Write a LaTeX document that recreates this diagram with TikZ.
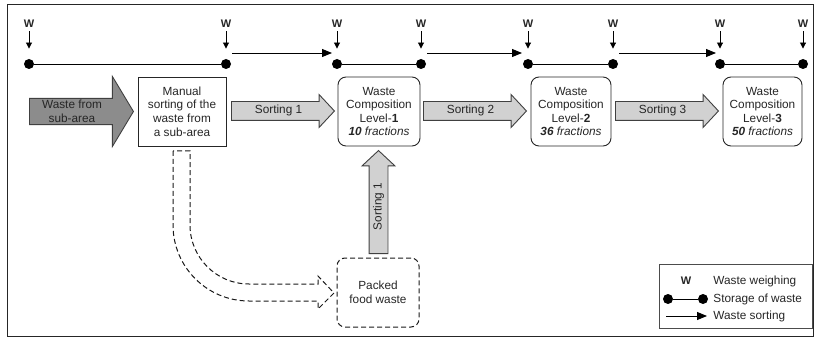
\documentclass[tikz,border=0pt]{standalone}
\usepackage{fontspec}
\setmainfont{Liberation Sans}
\usetikzlibrary{shapes.arrows, arrows.meta}

\begin{document}
\begin{tikzpicture}[x=1pt, y=1pt, line width=0.9pt,
    every node/.style={font=\fontsize{11.8}{13.6}\selectfont, text=black!85},
    box/.style={draw=black!85, minimum width=84pt, minimum height=69pt, align=center, inner sep=0pt},
    roundbox/.style={box, rounded corners=8pt},
    dot/.style={circle, fill=black, inner sep=0pt, minimum size=10pt},
    wlabel/.style={font=\fontsize{11}{12}\selectfont\bfseries, inner sep=2pt},
    warrow/.style={-{Triangle[length=6pt,width=6pt]}, shorten <=1pt, shorten >=10pt},
    sortline/.style={-{Triangle[length=10pt,width=8pt]}},
    fatarrow/.style={single arrow, draw=black!75, fill=black!18, minimum width=32pt,
        single arrow head extend=7pt, single arrow tip angle=94, minimum height=103pt,
        inner ysep=3.5pt, inner xsep=0pt, text height=8.5pt, text depth=2.5pt, anchor=tail},
    dashline/.style={draw=black!90, line width=1pt, dash pattern=on 5pt off 3pt}]

    \useasboundingbox (0,0) rectangle (817,-342);
    \draw[black!85] (7,-4) rectangle (813,-336);

    % Weighing points (W)
    \node[wlabel] (w1) at (29,-24) {W};
    \node[wlabel] (w2) at (226,-24) {W};
    \node[wlabel] (w3) at (337,-24) {W};
    \node[wlabel] (w4) at (421,-24) {W};
    \node[wlabel] (w5) at (528,-24) {W};
    \node[wlabel] (w6) at (613,-24) {W};
    \node[wlabel] (w7) at (720,-24) {W};
    \node[wlabel] (w8) at (803,-24) {W};

    % Storage points
    \node[dot] (d1) at (29,-64) {};
    \node[dot] (d2) at (226,-64) {};
    \node[dot] (d3) at (337,-64) {};
    \node[dot] (d4) at (421,-64) {};
    \node[dot] (d5) at (528,-64) {};
    \node[dot] (d6) at (613,-64) {};
    \node[dot] (d7) at (720,-64) {};
    \node[dot] (d8) at (803,-64) {};

    \draw[warrow] (w1) -- (d1);
    \draw[warrow] (w2) -- (d2);
    \draw[warrow] (w3) -- (d3);
    \draw[warrow] (w4) -- (d4);
    \draw[warrow] (w5) -- (d5);
    \draw[warrow] (w6) -- (d6);
    \draw[warrow] (w7) -- (d7);
    \draw[warrow] (w8) -- (d8);

    \draw (d1) -- (d2);
    \draw (d3) -- (d4);
    \draw (d5) -- (d6);
    \draw (d7) -- (d8);

    % Sorting steps
    \draw[sortline] ([xshift=6pt,yshift=11pt]d2.center) -- ([xshift=-5pt,yshift=11pt]d3.center);
    \draw[sortline] ([xshift=6pt,yshift=11pt]d4.center) -- ([xshift=-6pt,yshift=11pt]d5.center);
    \draw[sortline] ([xshift=6pt,yshift=11pt]d6.center) -- ([xshift=-4pt,yshift=11pt]d7.center);

    % Boxes
    \node[box, minimum width=88pt] (manual) at (182,-111.5) {Manual\\sorting of the\\waste from\\a sub-area};
    \node[roundbox, minimum width=82pt] (lev1) at (379,-111.5) {Waste\\Composition\\Level-\textbf{1}\\\textbf{\textit{10}} \textit{fractions}};
    \node[roundbox, minimum width=80pt] (lev2) at (571,-111.5) {Waste\\Composition\\Level-\textbf{2}\\\textbf{\textit{36}} \textit{fractions}};
    \node[roundbox, minimum width=79pt] (lev3) at (762.5,-111.5) {Waste\\Composition\\Level-\textbf{3}\\\textbf{\textit{50}} \textit{fractions}};
    \node[roundbox, dashline, minimum width=82pt] (packed) at (378,-292.5) {Packed\\food waste};

    % Fat arrows
    \node[single arrow, draw=black!75, fill=black!45, minimum width=70pt,
        single arrow head extend=17.5pt, single arrow tip angle=118, minimum height=104pt,
        inner ysep=10pt, inner xsep=0pt, anchor=tail] (src) at (29,-111.5) {};
    \node[align=center, inner sep=0pt] (srctext) at ([xshift=43pt]src.tail) {Waste from\\sub-area};
    \node[fatarrow] (sort1) at (231,-111) {Sorting 1};
    \node[fatarrow] (sort2) at (423,-111) {Sorting 2};
    \node[fatarrow] (sort3) at (615,-111) {Sorting 3};
    \node[fatarrow, rotate=90] (sortup) at (378.5,-254) {Sorting 1};

    % Dashed route to packed food waste
    \draw[dashline] (173,-151) -- (173,-225) arc (180:270:76) -- (318,-301) -- (318,-309)
        -- (334,-293) -- (318,-276) -- (318,-284) -- (249,-284) arc (270:180:59)
        -- (190,-151) -- cycle;

    % Legend
    \node[draw=black!70, minimum width=153pt, minimum height=64pt, inner sep=0pt] (legend) at (735.5,-296) {};
    \node[wlabel] (lw) at (686,-281) {W};
    \node[anchor=west, inner sep=0pt] (lt1) at (713,-281) {Waste weighing};
    \node[anchor=west, inner sep=0pt] (lt2) at (713,-299) {Storage of waste};
    \node[anchor=west, inner sep=0pt] (lt3) at (713,-316) {Waste sorting};
    \node[dot] (ld1) at (668,-299) {};
    \node[dot] (ld2) at (703,-299) {};
    \draw (ld1) -- (ld2);
    \coordinate (la1) at (666,-316);
    \coordinate (la2) at (707,-316);
    \draw[sortline] (la1) -- (la2);
\end{tikzpicture}
\end{document}
